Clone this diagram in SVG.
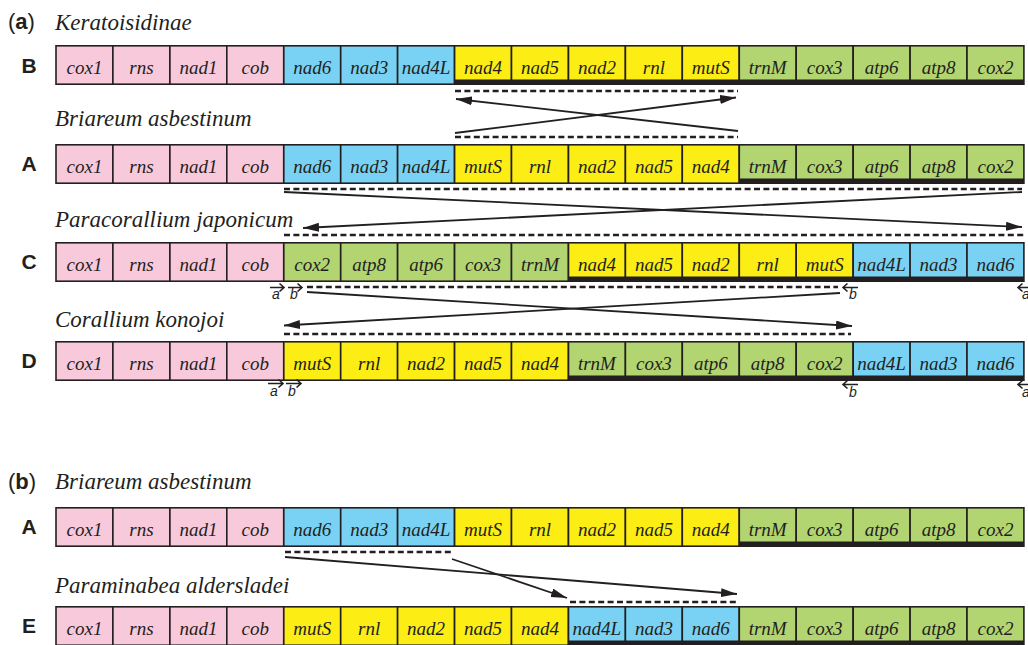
<svg xmlns="http://www.w3.org/2000/svg" width="1028" height="645" viewBox="0 0 1028 645">
<style>
.p{fill:#F8C9DB;stroke:#231F20;stroke-width:1.6}
.b{fill:#79D2F3;stroke:#231F20;stroke-width:1.6}
.y{fill:#FCEE15;stroke:#231F20;stroke-width:1.6}
.g{fill:#B2D572;stroke:#231F20;stroke-width:1.6}
.bar{fill:#231F20}
.gt{font-family:'Liberation Serif','Times New Roman','DejaVu Serif',serif;font-style:italic;font-size:19px;fill:#231F20;text-anchor:middle}
.sp{font-family:'Liberation Serif','Times New Roman','DejaVu Serif',serif;font-style:italic;font-size:23px;fill:#231F20}
.rl{font-family:'Liberation Sans',Arial,sans-serif;font-weight:bold;font-size:21px;fill:#231F20;text-anchor:middle}
.pl{font-family:'Liberation Sans',Arial,sans-serif;font-size:22px;fill:#231F20}
.ab{font-family:'Liberation Sans',Arial,sans-serif;font-style:italic;font-size:14px;fill:#231F20;text-anchor:middle}
.dash{stroke:#231F20;stroke-width:2.6;stroke-dasharray:6 3.4;fill:none}
.ln{stroke:#231F20;stroke-width:1.8;fill:none;marker-end:url(#ah)}
.sm{stroke:#231F20;stroke-width:1.6;fill:none}
</style>
<defs>
<marker id="ah" markerUnits="userSpaceOnUse" markerWidth="18" markerHeight="10" refX="16" refY="4.5" orient="auto">
<path d="M0,0 L16,4.5 L0,9 z" fill="#231F20"/>
</marker>
</defs>

<text class="pl" x="8" y="29">(<tspan font-weight="bold">a</tspan>)</text>
<text class="sp" x="55" y="30">Keratoisidinae</text>
<text class="sp" x="55" y="126">Briareum asbestinum</text>
<text class="sp" x="55" y="227">Paracorallium japonicum</text>
<text class="sp" x="55" y="327">Corallium konojoi</text>
<text class="pl" x="8" y="489">(<tspan font-weight="bold">b</tspan>)</text>
<text class="sp" x="55" y="489">Briareum asbestinum</text>
<text class="sp" x="55" y="593">Paraminabea aldersladei</text>

<g id="rowB" transform="translate(0,45)">
<text class="rl" x="29" y="28">B</text>
<g id="B-cox1"><rect class="p" x="56" y="0.8" width="56.9" height="38.4"/><text class="gt" x="84.5" y="29">cox1</text></g>
<g id="B-rns"><rect class="p" x="112.9" y="0.8" width="56.9" height="38.4"/><text class="gt" x="141.4" y="29">rns</text></g>
<g id="B-nad1"><rect class="p" x="169.9" y="0.8" width="56.9" height="38.4"/><text class="gt" x="198.4" y="29">nad1</text></g>
<g id="B-cob"><rect class="p" x="226.8" y="0.8" width="56.9" height="38.4"/><text class="gt" x="255.3" y="29">cob</text></g>
<g id="B-nad6"><rect class="b" x="283.8" y="0.8" width="56.9" height="38.4"/><text class="gt" x="312.2" y="29">nad6</text></g>
<g id="B-nad3"><rect class="b" x="340.7" y="0.8" width="56.9" height="38.4"/><text class="gt" x="369.2" y="29">nad3</text></g>
<g id="B-nad4L"><rect class="b" x="397.6" y="0.8" width="56.9" height="38.4"/><text class="gt" x="426.1" y="29">nad4L</text></g>
<g id="B-nad4"><rect class="y" x="454.6" y="0.8" width="56.9" height="38.4"/><text class="gt" x="483" y="29">nad4</text></g>
<g id="B-nad5"><rect class="y" x="511.5" y="0.8" width="56.9" height="38.4"/><text class="gt" x="540" y="29">nad5</text></g>
<g id="B-nad2"><rect class="y" x="568.5" y="0.8" width="56.9" height="38.4"/><text class="gt" x="596.9" y="29">nad2</text></g>
<g id="B-rnl"><rect class="y" x="625.4" y="0.8" width="56.9" height="38.4"/><text class="gt" x="653.9" y="29">rnl</text></g>
<g id="B-mutS"><rect class="y" x="682.3" y="0.8" width="56.9" height="38.4"/><text class="gt" x="710.8" y="29">mutS</text></g>
<g id="B-trnM"><rect class="g" x="739.3" y="0.8" width="56.9" height="38.4"/><text class="gt" x="767.7" y="29">trnM</text></g>
<g id="B-cox3"><rect class="g" x="796.2" y="0.8" width="56.9" height="38.4"/><text class="gt" x="824.7" y="29">cox3</text></g>
<g id="B-atp6"><rect class="g" x="853.2" y="0.8" width="56.9" height="38.4"/><text class="gt" x="881.6" y="29">atp6</text></g>
<g id="B-atp8"><rect class="g" x="910.1" y="0.8" width="56.9" height="38.4"/><text class="gt" x="938.6" y="29">atp8</text></g>
<g id="B-cox2"><rect class="g" x="967" y="0.8" width="56.9" height="38.4"/><text class="gt" x="995.5" y="29">cox2</text></g>
<rect class="bar" x="454.6" y="34.5" width="569.4" height="5.3"/>
</g>

<g id="rowA" transform="translate(0,144)">
<text class="rl" x="29" y="27">A</text>
<g id="A-cox1"><rect class="p" x="56" y="0.8" width="56.9" height="38.4"/><text class="gt" x="84.5" y="29">cox1</text></g>
<g id="A-rns"><rect class="p" x="112.9" y="0.8" width="56.9" height="38.4"/><text class="gt" x="141.4" y="29">rns</text></g>
<g id="A-nad1"><rect class="p" x="169.9" y="0.8" width="56.9" height="38.4"/><text class="gt" x="198.4" y="29">nad1</text></g>
<g id="A-cob"><rect class="p" x="226.8" y="0.8" width="56.9" height="38.4"/><text class="gt" x="255.3" y="29">cob</text></g>
<g id="A-nad6"><rect class="b" x="283.8" y="0.8" width="56.9" height="38.4"/><text class="gt" x="312.2" y="29">nad6</text></g>
<g id="A-nad3"><rect class="b" x="340.7" y="0.8" width="56.9" height="38.4"/><text class="gt" x="369.2" y="29">nad3</text></g>
<g id="A-nad4L"><rect class="b" x="397.6" y="0.8" width="56.9" height="38.4"/><text class="gt" x="426.1" y="29">nad4L</text></g>
<g id="A-mutS"><rect class="y" x="454.6" y="0.8" width="56.9" height="38.4"/><text class="gt" x="483" y="29">mutS</text></g>
<g id="A-rnl"><rect class="y" x="511.5" y="0.8" width="56.9" height="38.4"/><text class="gt" x="540" y="29">rnl</text></g>
<g id="A-nad2"><rect class="y" x="568.5" y="0.8" width="56.9" height="38.4"/><text class="gt" x="596.9" y="29">nad2</text></g>
<g id="A-nad5"><rect class="y" x="625.4" y="0.8" width="56.9" height="38.4"/><text class="gt" x="653.9" y="29">nad5</text></g>
<g id="A-nad4"><rect class="y" x="682.3" y="0.8" width="56.9" height="38.4"/><text class="gt" x="710.8" y="29">nad4</text></g>
<g id="A-trnM"><rect class="g" x="739.3" y="0.8" width="56.9" height="38.4"/><text class="gt" x="767.7" y="29">trnM</text></g>
<g id="A-cox3"><rect class="g" x="796.2" y="0.8" width="56.9" height="38.4"/><text class="gt" x="824.7" y="29">cox3</text></g>
<g id="A-atp6"><rect class="g" x="853.2" y="0.8" width="56.9" height="38.4"/><text class="gt" x="881.6" y="29">atp6</text></g>
<g id="A-atp8"><rect class="g" x="910.1" y="0.8" width="56.9" height="38.4"/><text class="gt" x="938.6" y="29">atp8</text></g>
<g id="A-cox2"><rect class="g" x="967" y="0.8" width="56.9" height="38.4"/><text class="gt" x="995.5" y="29">cox2</text></g>
<rect class="bar" x="739.3" y="34.5" width="284.7" height="5.3"/>
</g>

<g id="rowC" transform="translate(0,242)">
<text class="rl" x="29" y="27">C</text>
<g id="C-cox1"><rect class="p" x="56" y="0.8" width="56.9" height="38.4"/><text class="gt" x="84.5" y="29">cox1</text></g>
<g id="C-rns"><rect class="p" x="112.9" y="0.8" width="56.9" height="38.4"/><text class="gt" x="141.4" y="29">rns</text></g>
<g id="C-nad1"><rect class="p" x="169.9" y="0.8" width="56.9" height="38.4"/><text class="gt" x="198.4" y="29">nad1</text></g>
<g id="C-cob"><rect class="p" x="226.8" y="0.8" width="56.9" height="38.4"/><text class="gt" x="255.3" y="29">cob</text></g>
<g id="C-cox2"><rect class="g" x="283.8" y="0.8" width="56.9" height="38.4"/><text class="gt" x="312.2" y="29">cox2</text></g>
<g id="C-atp8"><rect class="g" x="340.7" y="0.8" width="56.9" height="38.4"/><text class="gt" x="369.2" y="29">atp8</text></g>
<g id="C-atp6"><rect class="g" x="397.6" y="0.8" width="56.9" height="38.4"/><text class="gt" x="426.1" y="29">atp6</text></g>
<g id="C-cox3"><rect class="g" x="454.6" y="0.8" width="56.9" height="38.4"/><text class="gt" x="483" y="29">cox3</text></g>
<g id="C-trnM"><rect class="g" x="511.5" y="0.8" width="56.9" height="38.4"/><text class="gt" x="540" y="29">trnM</text></g>
<g id="C-nad4"><rect class="y" x="568.5" y="0.8" width="56.9" height="38.4"/><text class="gt" x="596.9" y="29">nad4</text></g>
<g id="C-nad5"><rect class="y" x="625.4" y="0.8" width="56.9" height="38.4"/><text class="gt" x="653.9" y="29">nad5</text></g>
<g id="C-nad2"><rect class="y" x="682.3" y="0.8" width="56.9" height="38.4"/><text class="gt" x="710.8" y="29">nad2</text></g>
<g id="C-rnl"><rect class="y" x="739.3" y="0.8" width="56.9" height="38.4"/><text class="gt" x="767.7" y="29">rnl</text></g>
<g id="C-mutS"><rect class="y" x="796.2" y="0.8" width="56.9" height="38.4"/><text class="gt" x="824.7" y="29">mutS</text></g>
<g id="C-nad4L"><rect class="b" x="853.2" y="0.8" width="56.9" height="38.4"/><text class="gt" x="881.6" y="29">nad4L</text></g>
<g id="C-nad3"><rect class="b" x="910.1" y="0.8" width="56.9" height="38.4"/><text class="gt" x="938.6" y="29">nad3</text></g>
<g id="C-nad6"><rect class="b" x="967" y="0.8" width="56.9" height="38.4"/><text class="gt" x="995.5" y="29">nad6</text></g>
<rect class="bar" x="568.5" y="34.5" width="455.5" height="5.3"/>
</g>

<g id="rowD" transform="translate(0,341)">
<text class="rl" x="29" y="27">D</text>
<g id="D-cox1"><rect class="p" x="56" y="0.8" width="56.9" height="38.4"/><text class="gt" x="84.5" y="29">cox1</text></g>
<g id="D-rns"><rect class="p" x="112.9" y="0.8" width="56.9" height="38.4"/><text class="gt" x="141.4" y="29">rns</text></g>
<g id="D-nad1"><rect class="p" x="169.9" y="0.8" width="56.9" height="38.4"/><text class="gt" x="198.4" y="29">nad1</text></g>
<g id="D-cob"><rect class="p" x="226.8" y="0.8" width="56.9" height="38.4"/><text class="gt" x="255.3" y="29">cob</text></g>
<g id="D-mutS"><rect class="y" x="283.8" y="0.8" width="56.9" height="38.4"/><text class="gt" x="312.2" y="29">mutS</text></g>
<g id="D-rnl"><rect class="y" x="340.7" y="0.8" width="56.9" height="38.4"/><text class="gt" x="369.2" y="29">rnl</text></g>
<g id="D-nad2"><rect class="y" x="397.6" y="0.8" width="56.9" height="38.4"/><text class="gt" x="426.1" y="29">nad2</text></g>
<g id="D-nad5"><rect class="y" x="454.6" y="0.8" width="56.9" height="38.4"/><text class="gt" x="483" y="29">nad5</text></g>
<g id="D-nad4"><rect class="y" x="511.5" y="0.8" width="56.9" height="38.4"/><text class="gt" x="540" y="29">nad4</text></g>
<g id="D-trnM"><rect class="g" x="568.5" y="0.8" width="56.9" height="38.4"/><text class="gt" x="596.9" y="29">trnM</text></g>
<g id="D-cox3"><rect class="g" x="625.4" y="0.8" width="56.9" height="38.4"/><text class="gt" x="653.9" y="29">cox3</text></g>
<g id="D-atp6"><rect class="g" x="682.3" y="0.8" width="56.9" height="38.4"/><text class="gt" x="710.8" y="29">atp6</text></g>
<g id="D-atp8"><rect class="g" x="739.3" y="0.8" width="56.9" height="38.4"/><text class="gt" x="767.7" y="29">atp8</text></g>
<g id="D-cox2"><rect class="g" x="796.2" y="0.8" width="56.9" height="38.4"/><text class="gt" x="824.7" y="29">cox2</text></g>
<g id="D-nad4L"><rect class="b" x="853.2" y="0.8" width="56.9" height="38.4"/><text class="gt" x="881.6" y="29">nad4L</text></g>
<g id="D-nad3"><rect class="b" x="910.1" y="0.8" width="56.9" height="38.4"/><text class="gt" x="938.6" y="29">nad3</text></g>
<g id="D-nad6"><rect class="b" x="967" y="0.8" width="56.9" height="38.4"/><text class="gt" x="995.5" y="29">nad6</text></g>
<rect class="bar" x="568.5" y="34.5" width="455.5" height="5.3"/>
</g>

<g id="rowA2" transform="translate(0,507)">
<text class="rl" x="29" y="27">A</text>
<g id="A2-cox1"><rect class="p" x="56" y="0.8" width="56.9" height="38.4"/><text class="gt" x="84.5" y="29">cox1</text></g>
<g id="A2-rns"><rect class="p" x="112.9" y="0.8" width="56.9" height="38.4"/><text class="gt" x="141.4" y="29">rns</text></g>
<g id="A2-nad1"><rect class="p" x="169.9" y="0.8" width="56.9" height="38.4"/><text class="gt" x="198.4" y="29">nad1</text></g>
<g id="A2-cob"><rect class="p" x="226.8" y="0.8" width="56.9" height="38.4"/><text class="gt" x="255.3" y="29">cob</text></g>
<g id="A2-nad6"><rect class="b" x="283.8" y="0.8" width="56.9" height="38.4"/><text class="gt" x="312.2" y="29">nad6</text></g>
<g id="A2-nad3"><rect class="b" x="340.7" y="0.8" width="56.9" height="38.4"/><text class="gt" x="369.2" y="29">nad3</text></g>
<g id="A2-nad4L"><rect class="b" x="397.6" y="0.8" width="56.9" height="38.4"/><text class="gt" x="426.1" y="29">nad4L</text></g>
<g id="A2-mutS"><rect class="y" x="454.6" y="0.8" width="56.9" height="38.4"/><text class="gt" x="483" y="29">mutS</text></g>
<g id="A2-rnl"><rect class="y" x="511.5" y="0.8" width="56.9" height="38.4"/><text class="gt" x="540" y="29">rnl</text></g>
<g id="A2-nad2"><rect class="y" x="568.5" y="0.8" width="56.9" height="38.4"/><text class="gt" x="596.9" y="29">nad2</text></g>
<g id="A2-nad5"><rect class="y" x="625.4" y="0.8" width="56.9" height="38.4"/><text class="gt" x="653.9" y="29">nad5</text></g>
<g id="A2-nad4"><rect class="y" x="682.3" y="0.8" width="56.9" height="38.4"/><text class="gt" x="710.8" y="29">nad4</text></g>
<g id="A2-trnM"><rect class="g" x="739.3" y="0.8" width="56.9" height="38.4"/><text class="gt" x="767.7" y="29">trnM</text></g>
<g id="A2-cox3"><rect class="g" x="796.2" y="0.8" width="56.9" height="38.4"/><text class="gt" x="824.7" y="29">cox3</text></g>
<g id="A2-atp6"><rect class="g" x="853.2" y="0.8" width="56.9" height="38.4"/><text class="gt" x="881.6" y="29">atp6</text></g>
<g id="A2-atp8"><rect class="g" x="910.1" y="0.8" width="56.9" height="38.4"/><text class="gt" x="938.6" y="29">atp8</text></g>
<g id="A2-cox2"><rect class="g" x="967" y="0.8" width="56.9" height="38.4"/><text class="gt" x="995.5" y="29">cox2</text></g>
<rect class="bar" x="739.3" y="34.5" width="284.7" height="5.3"/>
</g>

<g id="rowE" transform="translate(0,606)">
<text class="rl" x="29" y="27">E</text>
<g id="E-cox1"><rect class="p" x="56" y="0.8" width="56.9" height="38.4"/><text class="gt" x="84.5" y="29">cox1</text></g>
<g id="E-rns"><rect class="p" x="112.9" y="0.8" width="56.9" height="38.4"/><text class="gt" x="141.4" y="29">rns</text></g>
<g id="E-nad1"><rect class="p" x="169.9" y="0.8" width="56.9" height="38.4"/><text class="gt" x="198.4" y="29">nad1</text></g>
<g id="E-cob"><rect class="p" x="226.8" y="0.8" width="56.9" height="38.4"/><text class="gt" x="255.3" y="29">cob</text></g>
<g id="E-mutS"><rect class="y" x="283.8" y="0.8" width="56.9" height="38.4"/><text class="gt" x="312.2" y="29">mutS</text></g>
<g id="E-rnl"><rect class="y" x="340.7" y="0.8" width="56.9" height="38.4"/><text class="gt" x="369.2" y="29">rnl</text></g>
<g id="E-nad2"><rect class="y" x="397.6" y="0.8" width="56.9" height="38.4"/><text class="gt" x="426.1" y="29">nad2</text></g>
<g id="E-nad5"><rect class="y" x="454.6" y="0.8" width="56.9" height="38.4"/><text class="gt" x="483" y="29">nad5</text></g>
<g id="E-nad4"><rect class="y" x="511.5" y="0.8" width="56.9" height="38.4"/><text class="gt" x="540" y="29">nad4</text></g>
<g id="E-nad4L"><rect class="b" x="568.5" y="0.8" width="56.9" height="38.4"/><text class="gt" x="596.9" y="29">nad4L</text></g>
<g id="E-nad3"><rect class="b" x="625.4" y="0.8" width="56.9" height="38.4"/><text class="gt" x="653.9" y="29">nad3</text></g>
<g id="E-nad6"><rect class="b" x="682.3" y="0.8" width="56.9" height="38.4"/><text class="gt" x="710.8" y="29">nad6</text></g>
<g id="E-trnM"><rect class="g" x="739.3" y="0.8" width="56.9" height="38.4"/><text class="gt" x="767.7" y="29">trnM</text></g>
<g id="E-cox3"><rect class="g" x="796.2" y="0.8" width="56.9" height="38.4"/><text class="gt" x="824.7" y="29">cox3</text></g>
<g id="E-atp6"><rect class="g" x="853.2" y="0.8" width="56.9" height="38.4"/><text class="gt" x="881.6" y="29">atp6</text></g>
<g id="E-atp8"><rect class="g" x="910.1" y="0.8" width="56.9" height="38.4"/><text class="gt" x="938.6" y="29">atp8</text></g>
<g id="E-cox2"><rect class="g" x="967" y="0.8" width="56.9" height="38.4"/><text class="gt" x="995.5" y="29">cox2</text></g>
<rect class="bar" x="568.5" y="34.5" width="455.5" height="5.3"/>
</g>

<g id="connectors">
<line class="dash" x1="455" y1="91" x2="738" y2="91"/>
<line class="dash" x1="455" y1="137" x2="738" y2="137"/>
<line class="ln" x1="738" y1="131" x2="456" y2="99"/>
<line class="ln" x1="455" y1="133" x2="736" y2="97.5"/>

<line class="dash" x1="284" y1="189" x2="1022" y2="189"/>
<line class="dash" x1="284" y1="235" x2="1024" y2="235"/>
<line class="ln" x1="284" y1="192" x2="1022" y2="227"/>
<line class="ln" x1="1022" y1="192" x2="303" y2="228"/>

<line class="dash" x1="307" y1="287" x2="838" y2="287"/>
<line class="dash" x1="284" y1="334" x2="851" y2="334"/>
<line class="ln" x1="840" y1="293" x2="284" y2="325.5"/>
<line class="ln" x1="307" y1="292" x2="852" y2="326"/>

<line class="dash" x1="285" y1="552" x2="453" y2="552"/>
<line class="dash" x1="570" y1="602" x2="738" y2="602"/>
<line class="ln" x1="285" y1="557" x2="737" y2="594"/>
<line class="ln" x1="452" y1="559" x2="567" y2="598"/>
</g>

<g id="primers">
<path class="sm" d="M270,287.5 H284 M279.5,283.5 L284,287.5 L279.5,291.5"/>
<path class="sm" d="M288,287.5 H302 M297.5,283.5 L302,287.5 L297.5,291.5"/>
<text class="ab" x="276" y="299">a</text>
<text class="ab" x="294" y="299">b</text>
<path class="sm" d="M858,287.5 H843 M847.5,283.5 L843,287.5 L847.5,291.5"/>
<text class="ab" x="853" y="299">b</text>
<path class="sm" d="M1032,287.5 H1018 M1022.5,283.5 L1018,287.5 L1022.5,291.5"/>
<text class="ab" x="1026" y="299">a</text>

<path class="sm" d="M268,383.5 H283 M278.5,379.5 L283,383.5 L278.5,387.5"/>
<path class="sm" d="M286,383.5 H301 M296.5,379.5 L301,383.5 L296.5,387.5"/>
<text class="ab" x="274" y="396">a</text>
<text class="ab" x="292" y="396">b</text>
<path class="sm" d="M858,384.5 H843 M847.5,380.5 L843,384.5 L847.5,388.5"/>
<text class="ab" x="853" y="397">b</text>
<path class="sm" d="M1032,384.5 H1018 M1022.5,380.5 L1018,384.5 L1022.5,388.5"/>
<text class="ab" x="1026" y="397">a</text>
</g>
</svg>
